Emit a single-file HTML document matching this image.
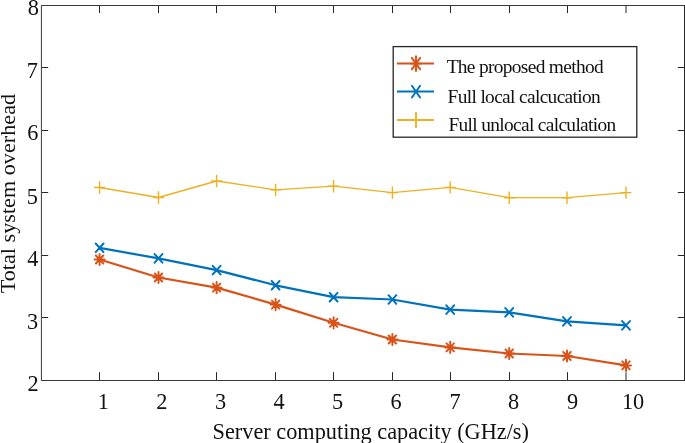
<!DOCTYPE html>
<html><head><meta charset="utf-8"><style>
html,body{margin:0;padding:0;background:#fff;}
body{width:685px;height:443px;overflow:hidden;font-family:"Liberation Serif",serif;}
svg{display:block;will-change:transform;}
</style></head><body>
<svg width="685" height="443" viewBox="0 0 685 443">
<rect width="685" height="443" fill="#fff"/>
<path d="M41 5.5H684.5" stroke="#3a3a3a" stroke-width="1.1"/>
<path d="M41 380.45H684.5" stroke="#3a3a3a" stroke-width="1.15"/>
<path d="M41.45 5V381" stroke="#4a4a4a" stroke-width="1.1"/>
<path d="M684.5 5V381" stroke="#262626" stroke-width="1"/>
<path d="M99.5 380V372.2M99.5 6V13M158.5 380V372.2M158.5 6V13M216.5 380V372.2M216.5 6V13M275.5 380V372.2M275.5 6V13M333.5 380V372.2M333.5 6V13M392.5 380V372.2M392.5 6V13M450.5 380V372.2M450.5 6V13M509.5 380V372.2M509.5 6V13M567.5 380V372.2M567.5 6V13M626 380V372.2M626 6V13M42 67.5H48.2M684 67.5H677.8M42 130.5H48.2M684 130.5H677.8M42 192.5H48.2M684 192.5H677.8M42 255.5H48.2M684 255.5H677.8M42 317.5H48.2M684 317.5H677.8" fill="none" stroke="#262626" stroke-width="1"/>
<polyline points="99.6,187.5 158.5,197.5 216.6,181 275.6,189.9 333.6,186.2 392.4,192.6 450.2,187.4 509.2,197.7 567,197.7 626,192.6" fill="none" stroke="#EDB120" stroke-width="1.3" stroke-linejoin="round"/>
<path d="M94.2 187.5H105M99.6 181.3V193.7M153.1 197.5H163.9M158.5 191.3V203.7M211.2 181H222M216.6 174.8V187.2M270.2 189.9H281M275.6 183.7V196.1M328.2 186.2H339M333.6 180V192.4M387 192.6H397.8M392.4 186.4V198.8M444.8 187.4H455.6M450.2 181.2V193.6M503.8 197.7H514.6M509.2 191.5V203.9M561.6 197.7H572.4M567 191.5V203.9M620.6 192.6H631.4M626 186.4V198.8" fill="none" stroke="#EDB120" stroke-width="1.4"/>
<polyline points="99.6,247.8 158.5,258.4 216.6,270.1 275.6,285.3 333.6,297.2 392.4,299.5 450.2,309.6 509.2,312.4 567,321.4 626,325.4" fill="none" stroke="#0072BD" stroke-width="2.2" stroke-linejoin="round"/>
<path d="M95.7 243.5L103.5 252.1M95.7 252.1L103.5 243.5M154.6 254.1L162.4 262.7M154.6 262.7L162.4 254.1M212.7 265.8L220.5 274.4M212.7 274.4L220.5 265.8M271.7 281L279.5 289.6M271.7 289.6L279.5 281M329.7 292.9L337.5 301.5M329.7 301.5L337.5 292.9M388.5 295.2L396.3 303.8M388.5 303.8L396.3 295.2M446.3 305.3L454.1 313.9M446.3 313.9L454.1 305.3M505.3 308.1L513.1 316.7M505.3 316.7L513.1 308.1M563.1 317.1L570.9 325.7M563.1 325.7L570.9 317.1M622.1 321.1L629.9 329.7M622.1 329.7L629.9 321.1" fill="none" stroke="#0072BD" stroke-width="2" stroke-linecap="round"/>
<polyline points="99.6,259.5 158.5,277.5 216.6,287.6 275.6,304.6 333.6,322.8 392.4,339.5 450.2,347.4 509.2,353.5 567,356 626,365.4" fill="none" stroke="#D95319" stroke-width="2.2" stroke-linejoin="round"/>
<path d="M94.6 259.5H104.6M99.6 253.9V265.1M95.9 255.5L103.3 263.5M95.9 263.5L103.3 255.5M153.5 277.5H163.5M158.5 271.9V283.1M154.8 273.5L162.2 281.5M154.8 281.5L162.2 273.5M211.6 287.6H221.6M216.6 282V293.2M212.9 283.6L220.3 291.6M212.9 291.6L220.3 283.6M270.6 304.6H280.6M275.6 299V310.2M271.9 300.6L279.3 308.6M271.9 308.6L279.3 300.6M328.6 322.8H338.6M333.6 317.2V328.4M329.9 318.8L337.3 326.8M329.9 326.8L337.3 318.8M387.4 339.5H397.4M392.4 333.9V345.1M388.7 335.5L396.1 343.5M388.7 343.5L396.1 335.5M445.2 347.4H455.2M450.2 341.8V353M446.5 343.4L453.9 351.4M446.5 351.4L453.9 343.4M504.2 353.5H514.2M509.2 347.9V359.1M505.5 349.5L512.9 357.5M505.5 357.5L512.9 349.5M562 356H572M567 350.4V361.6M563.3 352L570.7 360M563.3 360L570.7 352M621 365.4H631M626 359.8V371M622.3 361.4L629.7 369.4M622.3 369.4L629.7 361.4" fill="none" stroke="#D95319" stroke-width="1.95" stroke-linecap="round"/>
<rect x="393.2" y="46.6" width="243.6" height="90.6" fill="#fff" stroke="#262626" stroke-width="1.3"/>
<path d="M397 63.6H434" stroke="#D95319" stroke-width="2"/>
<path d="M411 63.6H421M416 56.3V70.9M411.8 57.9L420.2 69.3M411.8 69.3L420.2 57.9" fill="none" stroke="#D95319" stroke-width="1.95" stroke-linecap="round"/>
<path d="M397 91.6H434" stroke="#0072BD" stroke-width="2"/>
<path d="M411.9 85.7L420.1 97.5M411.9 97.5L420.1 85.7" fill="none" stroke="#0072BD" stroke-width="2" stroke-linecap="round"/>
<path d="M397 120.0H434" stroke="#EDB120" stroke-width="1.8"/>
<path d="M410.5 120H421.5M416 112V128" fill="none" stroke="#EDB120" stroke-width="1.8"/>
<text x="446.65" y="72.9" font-size="19.4" letter-spacing="-0.67" font-family="Liberation Serif" fill="#111">The proposed method</text>
<text x="447.54" y="102.8" font-size="19.4" letter-spacing="-0.65" font-family="Liberation Serif" fill="#111">Full local calcucation</text>
<text x="448.44" y="130.8" font-size="19.4" letter-spacing="-0.665" font-family="Liberation Serif" fill="#111">Full unlocal calculation</text>
<text x="97.82" y="408.8" font-size="22.3" font-family="Liberation Serif" fill="#111">1</text>
<text x="156.36" y="408.8" font-size="22.3" font-family="Liberation Serif" fill="#111">2</text>
<text x="214.94" y="408.8" font-size="22.3" font-family="Liberation Serif" fill="#111">3</text>
<text x="273.39" y="408.8" font-size="22.3" font-family="Liberation Serif" fill="#111">4</text>
<text x="332.12" y="408.8" font-size="22.3" font-family="Liberation Serif" fill="#111">5</text>
<text x="390.39" y="408.8" font-size="22.3" font-family="Liberation Serif" fill="#111">6</text>
<text x="449.42" y="408.8" font-size="22.3" font-family="Liberation Serif" fill="#111">7</text>
<text x="508.04" y="408.8" font-size="22.3" font-family="Liberation Serif" fill="#111">8</text>
<text x="567.04" y="408.8" font-size="22.3" font-family="Liberation Serif" fill="#111">9</text>
<text x="621.9" y="408.8" font-size="22.3" font-family="Liberation Serif" fill="#111">10</text>
<text x="27.69" y="14.7" font-size="22.3" font-family="Liberation Serif" fill="#111">8</text>
<text x="26.87" y="78" font-size="22.3" font-family="Liberation Serif" fill="#111">7</text>
<text x="27.34" y="140.4" font-size="22.3" font-family="Liberation Serif" fill="#111">6</text>
<text x="26.82" y="203.5" font-size="22.3" font-family="Liberation Serif" fill="#111">5</text>
<text x="27.29" y="265.5" font-size="22.3" font-family="Liberation Serif" fill="#111">4</text>
<text x="27.09" y="328.7" font-size="22.3" font-family="Liberation Serif" fill="#111">3</text>
<text x="27.56" y="390.6" font-size="22.3" font-family="Liberation Serif" fill="#111">2</text>
<text x="0" y="0" transform="translate(212.55 438.7) scale(1 1.04)" font-size="22.3" font-family="Liberation Serif" fill="#111">Server computing capacity (GHz/s)</text>
<text x="0" y="0" transform="translate(14.9 293.24) rotate(-90) scale(1.0 0.97)" font-size="22.2" font-family="Liberation Serif" fill="#111">Total system overhead</text>
</svg>
</body></html>
